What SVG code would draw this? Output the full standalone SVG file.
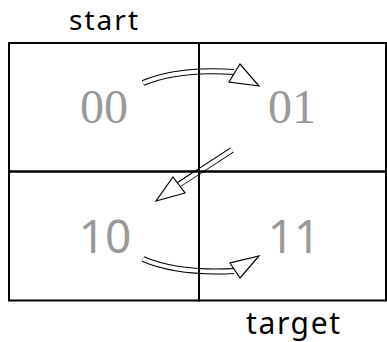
<svg xmlns="http://www.w3.org/2000/svg" width="387" height="342" viewBox="0 0 387 342">
<style>
.cell{fill:none;stroke:#000;stroke-width:2}
.serif{font-family:"Liberation Serif",serif;font-size:48px;fill:#999;text-anchor:middle}
.sans{font-family:"Noto Sans",sans-serif;font-size:46px;fill:#999;text-anchor:middle}
.lbl{font-family:"Noto Sans",sans-serif;font-size:28px;fill:#000}
.lbl2{font-family:"Noto Sans",sans-serif;font-size:30px;fill:#000}
.sh-o{fill:none;stroke:#000;stroke-width:6}
.sh-i{fill:none;stroke:#fff;stroke-width:4}
.head{fill:#fff;stroke:#000;stroke-width:1.2;stroke-linejoin:miter}
</style>
<rect width="387" height="342" fill="#fff"/>
<g id="connectors">
  <g id="arrow-00-01">
    <path class="sh-o" d="M143,83 Q178,68 234,72"/>
    <path class="sh-i" d="M143,83 Q178,68 235,72"/>
    <polygon class="head" points="240,64 229,82 259,86"/>
  </g>
  <g id="arrow-01-10">
    <path class="sh-o" d="M232,150 L178,185"/>
    <path class="sh-i" d="M232,150 L177,186"/>
    <polygon class="head" points="173,177 185,193 156,201"/>
  </g>
  <g id="arrow-10-11">
    <path class="sh-o" d="M143,259 Q178,274 234,271"/>
    <path class="sh-i" d="M143,259 Q178,274 235,271"/>
    <polygon class="head" points="230,263 240,278 259,256"/>
  </g>
</g>
<g id="cell-00">
  <rect class="cell" x="9" y="43" width="190" height="128.5"/>
  <text class="serif" x="104" y="123">00</text>
</g>
<g id="cell-01">
  <rect class="cell" x="199" y="43" width="187" height="128.5"/>
  <text class="serif" x="292" y="123">01</text>
</g>
<g id="cell-10">
  <rect class="cell" x="9" y="171.5" width="190" height="129"/>
  <text class="sans" x="105" y="253">10</text>
</g>
<g id="cell-11">
  <rect class="cell" x="199" y="171.5" width="187" height="129"/>
  <text class="sans" x="294" y="253">11</text>
</g>
<g id="label-start">
  <text class="lbl" x="69" y="30" textLength="69" lengthAdjust="spacing">start</text>
</g>
<g id="label-target">
  <text class="lbl2" x="246" y="334" textLength="94" lengthAdjust="spacing">target</text>
</g>
</svg>
